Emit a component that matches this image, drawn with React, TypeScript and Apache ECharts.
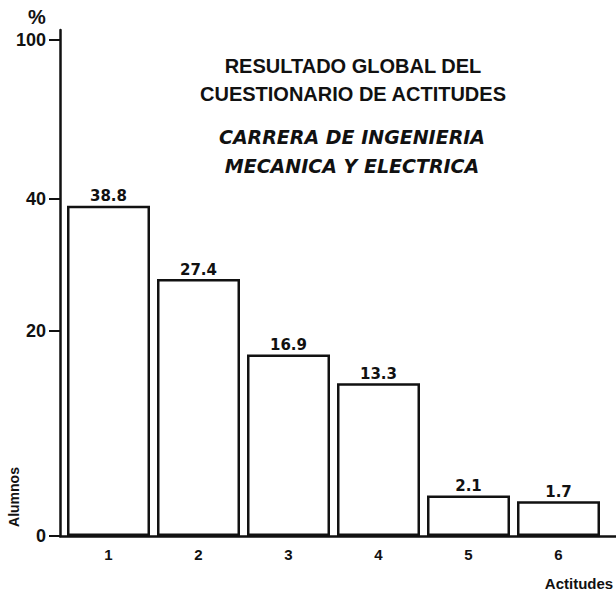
import React, { useEffect, useRef } from "react";
import * as echarts from "echarts";

// ---- data ----
const categories = ["1", "2", "3", "4", "5", "6"];
const percentages = [38.8, 27.4, 16.9, 13.3, 2.1, 1.7];
const yTickValues = [0, 20, 40];
const yTopLabel = "100"; // drawn at the top of a broken axis

const titleLines = ["RESULTADO GLOBAL DEL", "CUESTIONARIO DE ACTITUDES"];
const subtitleLines = ["CARRERA DE INGENIERIA", "MECANICA Y ELECTRICA"];
const xName = "Actitudes";
const yName = "Alumnos";
const yUnit = "%";

// The hand-drawn chart uses a compressed vertical scale (≈ power 0.72)
const EXP = 0.72;
const toAxis = (v: number) => Math.pow(v, EXP);
const AXIS_MAX = 21.35;
const TOP_LABEL_POS = 20.93;

export default function App() {
  const ref = useRef<HTMLDivElement>(null);

  useEffect(() => {
    if (!ref.current) return;
    const chart = echarts.init(ref.current, null, { renderer: "svg" });

    const tickPositions = [...yTickValues.map(toAxis), TOP_LABEL_POS];
    const labelFor = (val: number) => {
      for (let i = 0; i < yTickValues.length; i++) {
        if (Math.abs(toAxis(yTickValues[i]) - val) < 1e-6) return String(yTickValues[i]);
      }
      if (Math.abs(val - TOP_LABEL_POS) < 1e-6) return yTopLabel;
      return "";
    };

    const ink = "#111";
    const sans = "Liberation Sans, Arial, sans-serif";

    chart.setOption({
      animation: false,
      backgroundColor: "#ffffff",
      grid: [
        { left: 63.5, right: 12.5, top: 30, bottom: 56 },
        { left: 60, right: 0, top: 30, bottom: 56 },
      ],
      xAxis: [
        {
          type: "category",
          data: categories,
          gridIndex: 0,
          axisLine: { show: false },
          axisTick: { show: false },
          axisLabel: {
            color: ink,
            fontFamily: sans,
            fontWeight: "bold",
            fontSize: 15,
            margin: 11,
          },
        },
        {
          type: "value",
          gridIndex: 1,
          min: 0,
          max: 1,
          axisLine: { show: true, lineStyle: { color: ink, width: 2.5 } },
          axisTick: { show: false },
          axisLabel: { show: false },
          splitLine: { show: false },
        },
      ],
      yAxis: [
        {
          type: "value",
          gridIndex: 0,
          min: 0,
          max: AXIS_MAX,
          offset: 3.5,
          axisLine: { show: true, lineStyle: { color: ink, width: 2.5 } },
          axisTick: {
            show: true,
            inside: false,
            length: 11,
            lineStyle: { color: ink, width: 2 },
            customValues: tickPositions,
          },
          axisLabel: {
            color: ink,
            fontFamily: sans,
            fontWeight: "bold",
            fontSize: 18,
            margin: 14,
            customValues: tickPositions,
            formatter: (v: number) => labelFor(v),
          },
          splitLine: { show: false },
        },
        {
          type: "value",
          gridIndex: 1,
          show: false,
          min: 0,
          max: 1,
        },
      ],
      graphic: [
        ...titleLines.map((t, i) => ({
          type: "text",
          x: 353,
          y: 65.5 + i * 28.5,
          style: {
            text: t,
            fill: ink,
            font: `bold 20px ${sans}`,
            textAlign: "center",
            textVerticalAlign: "middle",
          },
        })),
        ...subtitleLines.map((t, i) => ({
          type: "text",
          x: 352,
          y: 137 + i * 28.5,
          style: {
            text: t,
            fill: ink,
            font: `italic bold 19px DejaVu Sans, sans-serif`,
            textAlign: "center",
            textVerticalAlign: "middle",
          },
        })),
        {
          type: "text",
          x: 579,
          y: 583,
          style: {
            text: xName,
            fill: ink,
            font: `bold 15px ${sans}`,
            textAlign: "center",
            textVerticalAlign: "middle",
          },
        },
        {
          type: "text",
          x: 14,
          y: 497,
          rotation: Math.PI / 2,
          style: {
            text: yName,
            fill: ink,
            font: `bold 14px ${sans}`,
            textAlign: "center",
            textVerticalAlign: "middle",
          },
        },
        {
          type: "text",
          x: 37,
          y: 17,
          style: {
            text: yUnit,
            fill: ink,
            font: `bold 20px ${sans}`,
            textAlign: "center",
            textVerticalAlign: "middle",
          },
        },
      ],
      series: [
        {
          type: "bar",
          xAxisIndex: 0,
          yAxisIndex: 0,
          data: percentages.map((v) => toAxis(v)),
          barWidth: 83,
          itemStyle: { color: "#ffffff", borderColor: ink, borderWidth: 2.5 },
          label: {
            show: true,
            position: "top",
            distance: 2,
            color: ink,
            fontFamily: "DejaVu Sans, sans-serif",
            fontWeight: "bold",
            fontSize: 15,
            formatter: (p: any) => percentages[p.dataIndex].toFixed(1),
          },
        },
      ],
    });

    return () => chart.dispose();
  }, []);

  return (
    <div
      ref={ref}
      style={{ position: "absolute", left: 0, top: 0, width: 616, height: 592, background: "#fff" }}
    />
  );
}
